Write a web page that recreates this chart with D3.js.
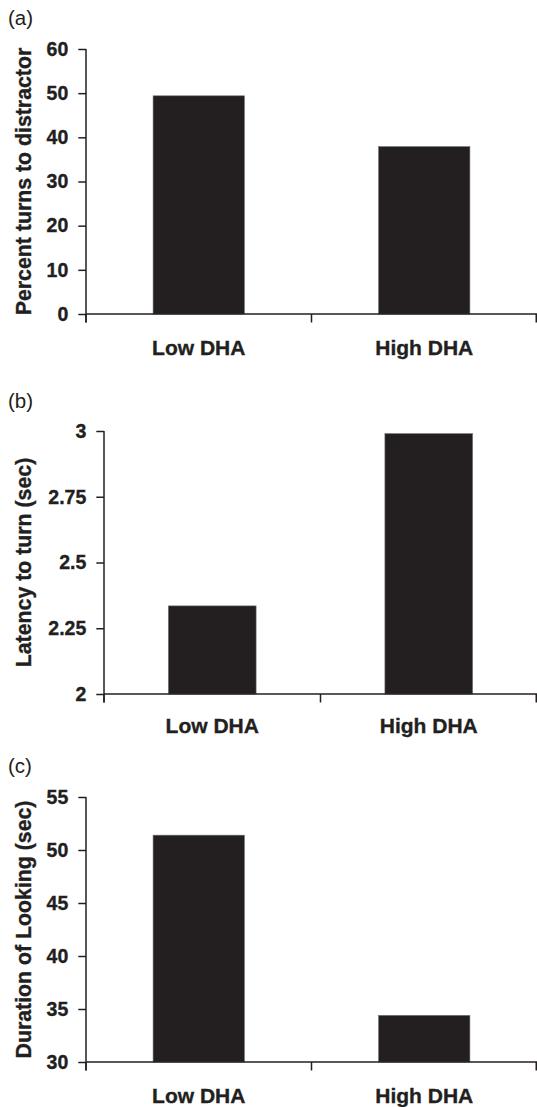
<!DOCTYPE html>
<html>
<head>
<meta charset="utf-8">
<script src="https://cdn.jsdelivr.net/npm/d3@7"></script>
<style>
  html, body { margin: 0; padding: 0; background: #fff; }
  svg { display: block; }
  text { font-family: "Liberation Sans", Arial, Helvetica, sans-serif; fill: #231f20; }
  .bold { font-weight: bold; stroke: #231f20; stroke-width: 0.35px; }
</style>
</head>
<body>
<div id="chart"></div>
<script>
// Données
const categories = ['Low DHA', 'High DHA'];
const percentTurns = [49.4, 37.9];
const latencyTurn = [2.335, 2.99];
const durationLooking = [51.4, 34.4];

const percentTicks = [0, 10, 20, 30, 40, 50, 60];
const latencyTicks = [2, 2.25, 2.5, 2.75, 3];
const durationTicks = [30, 35, 40, 45, 50, 55];

const panelLabels = ['(a)', '(b)', '(c)'];
const yTitles = ['Percent turns to distractor', 'Latency to turn (sec)', 'Duration of Looking (sec)'];

const width = 537;
const height = 1107;
const ink = '#231f20';

// Mise en page de chaque panneau
const panels = [
  { values: percentTurns, ticks: percentTicks, domain: [0, 60], left: 86, top: 49, bottom: 314, labelY: 25, catY: 355 },
  { values: latencyTurn, ticks: latencyTicks, domain: [2, 3], left: 104, top: 431, bottom: 694, labelY: 408, catY: 733 },
  { values: durationLooking, ticks: durationTicks, domain: [30, 55], left: 86, top: 797, bottom: 1062, labelY: 773, catY: 1103 }
];

const svg = d3.select('#chart')
  .append('svg')
  .attr('width', width)
  .attr('height', height)
  .attr('viewBox', [0, 0, width, height]);

panels.forEach((p, i) => drawPanel(p, i));

function drawPanel(p, i) {
  const g = svg.append('g');
  const right = 537;

  const x = d3.scaleBand()
    .domain(categories)
    .range([p.left, right])
    .padding(0);

  const y = d3.scaleLinear()
    .domain(p.domain)
    .range([p.bottom, p.top]);

  const barW = x.bandwidth() * 0.405;

  // Barres
  g.append('g')
    .selectAll('rect')
    .data(categories)
    .enter()
    .append('rect')
    .attr('x', d => x(d) + (x.bandwidth() - barW) / 2)
    .attr('y', (d, k) => y(p.values[k]))
    .attr('width', barW)
    .attr('height', (d, k) => y(p.domain[0]) - y(p.values[k]))
    .attr('fill', ink)
    .attr('stroke', '#6d6e71')
    .attr('stroke-width', 0.6);

  // Axe Y
  const yAxis = d3.axisLeft(y)
    .tickValues(p.ticks)
    .tickFormat(d => d)
    .tickSize(7.7)
    .tickPadding(10);

  const ya = g.append('g')
    .attr('transform', `translate(${p.left},0)`)
    .call(yAxis);
  ya.select('.domain').remove();
  ya.selectAll('.tick line').attr('stroke', ink).attr('stroke-width', 1.5);
  ya.selectAll('.tick text')
    .attr('class', 'bold')
    .attr('fill', ink)
    .style('font-size', '19.5px')
    .style('font-family', '"Liberation Sans", Arial, sans-serif');

  g.append('line')
    .attr('x1', p.left).attr('x2', p.left)
    .attr('y1', p.top).attr('y2', p.bottom + 8.5)
    .attr('stroke', ink).attr('stroke-width', 1.5);

  // Axe X
  g.append('line')
    .attr('x1', p.left).attr('x2', right)
    .attr('y1', p.bottom).attr('y2', p.bottom)
    .attr('stroke', ink).attr('stroke-width', 1.5);

  const edges = categories.map(c => x(c)).concat([x(categories[categories.length - 1]) + x.bandwidth()]);
  g.append('g')
    .selectAll('line')
    .data(edges)
    .enter()
    .append('line')
    .attr('x1', d => Math.min(d, right - 0.75))
    .attr('x2', d => Math.min(d, right - 0.75))
    .attr('y1', p.bottom)
    .attr('y2', p.bottom + 8.5)
    .attr('stroke', ink)
    .attr('stroke-width', 1.5);

  g.append('g')
    .selectAll('text')
    .data(categories)
    .enter()
    .append('text')
    .attr('class', 'bold')
    .attr('x', d => x(d) + x.bandwidth() / 2)
    .attr('y', p.catY)
    .attr('text-anchor', 'middle')
    .style('font-size', '21px')
    .text(d => d);

  // Titre de l'axe Y
  g.append('text')
    .attr('class', 'bold')
    .attr('transform', `translate(30.5,${(p.top + p.bottom) / 2}) rotate(-90)`)
    .attr('text-anchor', 'middle')
    .style('font-size', '21.3px')
    .text(yTitles[i]);

  // Lettre du panneau
  g.append('text')
    .attr('x', 8)
    .attr('y', p.labelY)
    .style('font-size', '20.5px')
    .text(panelLabels[i]);
}
</script>
</body>
</html>
